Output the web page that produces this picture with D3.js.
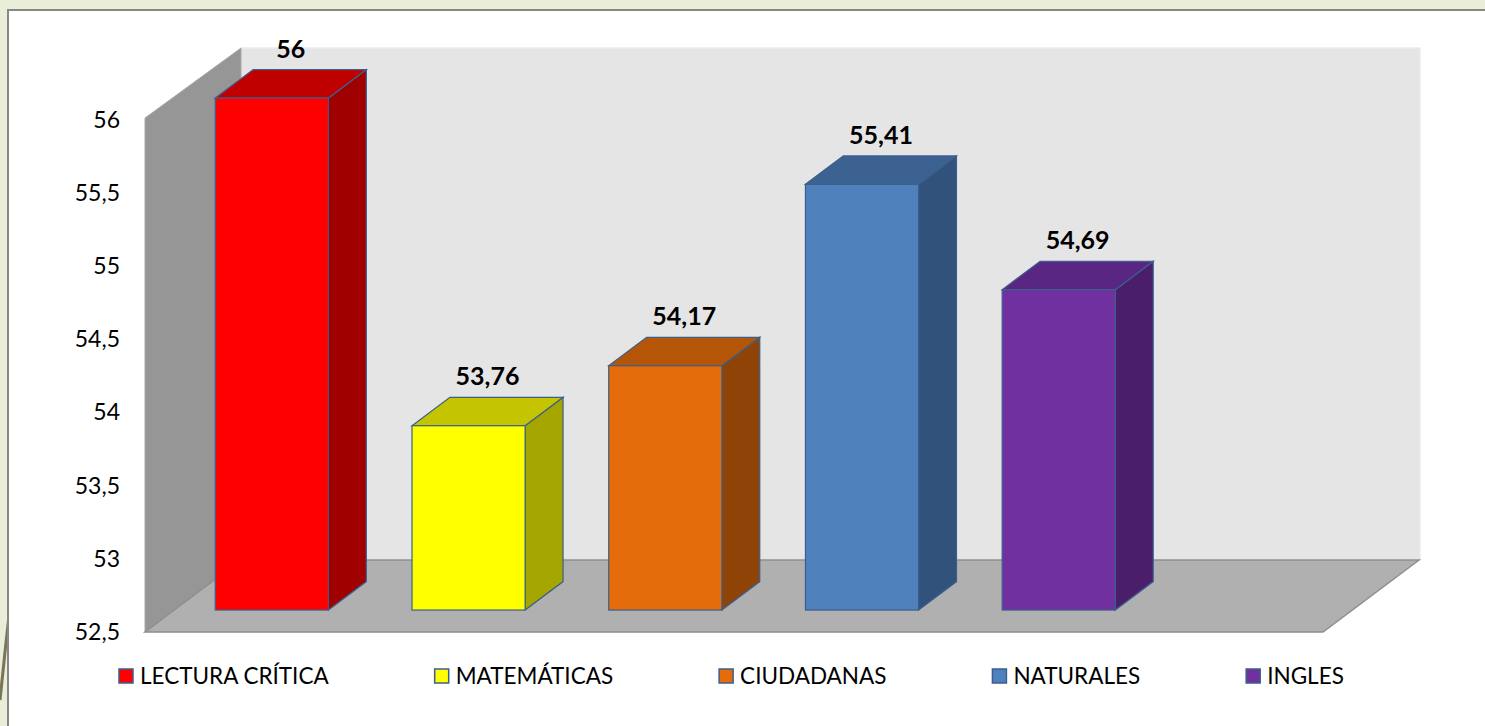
<!DOCTYPE html>
<html>
<head>
  <meta charset="utf-8">
  <title>Puntajes por área</title>
  <style>
    body { margin: 0; background: #e8eed7; }
    .tick text { font-family: Lato, "Noto Sans", sans-serif; font-size: 23px; fill: #000; }
    .bar-label { font-family: Lato, "Noto Sans", sans-serif; font-size: 25px; font-weight: bold; fill: #000; }
    .legend text { font-family: Lato, "Noto Sans", sans-serif; font-size: 22.5px; fill: #000; }
  </style>
  <script src="https://d3js.org/d3.v7.min.js"></script>
</head>
<body>
  <div id="chart"></div>
  <script>
    // data
    const categories = ["LECTURA CRÍTICA", "MATEMÁTICAS", "CIUDADANAS", "NATURALES", "INGLES"];
    const values = [56, 53.76, 54.17, 55.41, 54.69];
    const tickValues = [52.5, 53, 53.5, 54, 54.5, 55, 55.5, 56];

    const frontColors = ["#ff0000", "#ffff00", "#e46c0a", "#4f81bd", "#7030a0"];
    const topColors = ["#c00000", "#c4c400", "#b45508", "#3c6291", "#5a2683"];
    const sideColors = ["#a00000", "#a6a600", "#8f4307", "#31527a", "#4a1e6a"];

    const width = 1485;
    const height = 726;

    // front plane of the 3d box
    const plot = { left: 145, right: 1323, top: 120, bottom: 632 };
    const depth = { dx: 96, dy: -72 };
    const barFront = 0.305, barBack = 0.70;

    const loc = d3.formatLocale({ decimal: ",", thousands: ".", grouping: [3], currency: ["", ""] });
    const fmtTick = loc.format(".3~g");
    const fmtVal = loc.format(".4~g");

    const svg = d3.select("#chart")
      .append("svg")
      .attr("width", width)
      .attr("height", height);

    // slide background + panel
    svg.append("rect").attr("width", width).attr("height", height).attr("fill", "#e8eed7");
    svg.append("path")
      .attr("d", "M0,700 Q5,650 11,598")
      .attr("fill", "none").attr("stroke", "#7b7459").attr("stroke-width", 3);
    svg.append("rect")
      .attr("x", 8).attr("y", 10)
      .attr("width", width + 20).attr("height", height + 20)
      .attr("fill", "#fff").attr("stroke", "#878787").attr("stroke-width", 2);

    const y = d3.scaleLinear().domain([52.5, 56]).range([plot.bottom, plot.top]);
    const x = d3.scaleBand().domain(categories).range([186, 1086])
      .paddingInner(0.425).paddingOuter(0);

    const L = plot.left, R = plot.right, T = plot.top, B = plot.bottom;
    const dx = depth.dx, dy = depth.dy;
    const pts = a => a.map(p => p.join(",")).join(" ");

    // back wall
    svg.append("polygon")
      .attr("points", pts([[L + dx, T + dy], [R + dx + 1, T + dy], [R + dx + 1, B + dy], [L + dx, B + dy]]))
      .attr("fill", "#e5e5e5").attr("stroke", "#ececec").attr("stroke-width", 1.5);
    // left wall
    svg.append("polygon")
      .attr("points", pts([[L, T - 2], [L + dx, T + dy], [L + dx, B + dy], [L, B]]))
      .attr("fill", "#969696").attr("stroke", "#a8a8a8").attr("stroke-width", 1);
    // floor
    svg.append("polygon")
      .attr("points", pts([[L, B], [L + dx, B + dy], [R + dx, B + dy], [R, B]]))
      .attr("fill", "#b0b0b0").attr("stroke", "#8e8e8e").attr("stroke-width", 1.5);

    // y axis labels
    const axis = svg.append("g")
      .attr("transform", `translate(${L},0)`)
      .call(d3.axisLeft(y).tickValues(tickValues).tickFormat(fmtTick).tickSize(0).tickPadding(25));
    axis.select(".domain").remove();

    // bars
    const fx = barFront * dx, fy = barFront * dy;
    const bx = barBack * dx, by = barBack * dy;
    const bars = svg.append("g").selectAll("g")
      .data(categories.map((c, i) => ({ c, v: values[i], i })))
      .join("g");

    bars.each(function (d) {
      const g = d3.select(this);
      const x0 = x(d.c) + fx, x1 = x0 + x.bandwidth();
      const yt = y(d.v) + fy, yb = y(52.5) + fy;
      const ddx = bx - fx, ddy = by - fy;
      g.append("polygon")
        .attr("points", pts([[x1, yt], [x1 + ddx, yt + ddy], [x1 + ddx, yb + ddy], [x1, yb]]))
        .attr("fill", sideColors[d.i]).attr("stroke", "#3b5f8c").attr("stroke-width", 1.2);
      g.append("polygon")
        .attr("points", pts([[x0, yt], [x0 + ddx, yt + ddy], [x1 + ddx, yt + ddy], [x1, yt]]))
        .attr("fill", topColors[d.i]).attr("stroke", "#3b5f8c").attr("stroke-width", 1.2);
      g.append("rect")
        .attr("x", x0).attr("y", yt)
        .attr("width", x1 - x0).attr("height", yb - yt)
        .attr("fill", frontColors[d.i]).attr("stroke", "#3b5f8c").attr("stroke-width", 1.2);
      g.append("text")
        .attr("class", "bar-label")
        .attr("x", (x0 + x1 + ddx) / 2)
        .attr("y", yt + ddy - 12)
        .attr("text-anchor", "middle")
        .text(fmtVal(d.v));
    });

    // legend
    const legend = svg.append("g").attr("class", "legend");
    let lx = 119;
    categories.forEach((c, i) => {
      const item = legend.append("g").attr("transform", `translate(${lx},676)`);
      item.append("rect")
        .attr("x", 0).attr("y", -7).attr("width", 14).attr("height", 14)
        .attr("fill", frontColors[i]).attr("stroke", "#3b5f8c").attr("stroke-width", 1.5);
      const t = item.append("text")
        .attr("x", 21).attr("y", 8)
        .text(c);
      lx += 21 + t.node().getComputedTextLength() + 106;
    });
  </script>
</body>
</html>
